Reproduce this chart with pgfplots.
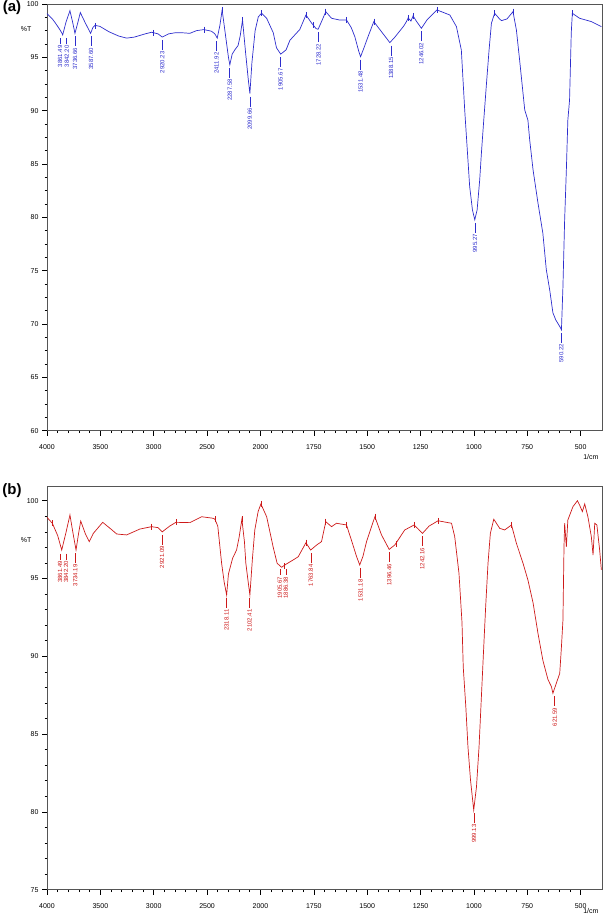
\documentclass[border=0pt]{standalone}
\usepackage{fontspec}
\setmainfont{Liberation Sans}
\usepackage{pgfplots}
\pgfplotsset{compat=1.18}
\definecolor{cA}{RGB}{45,45,205}
\definecolor{cB}{RGB}{205,25,25}
\definecolor{frm}{RGB}{85,85,85}
\newcommand{\pkfont}{\fontsize{6}{7}\selectfont}
\newcommand{\pk}[4]{\draw[#1,line width=0.6pt] (axis cs:#2,#3) ++(0pt,-3pt) -- ++(0pt,-10pt) node[rotate=90, anchor=east, inner sep=1.2pt, font=\pkfont] {#4};}
\newcommand{\pks}[4]{\draw[#1,line width=0.6pt] (axis cs:#2,#3) -- ++(0pt,-6pt) node[rotate=90, anchor=east, inner sep=1.2pt, font=\pkfont] {#4};}
\pgfplotsset{
 irbase/.style={
  scale only axis, width=555pt,
  xmin=4000, xmax=400,
  x coord trafo/.code={\pgfmathparse{(##1>=2000)*((4000-##1)/500)+(##1<2000)*(4+(2000-##1)/250)}},
  xtick={4000,3500,3000,2500,2000,1750,1500,1250,1000,750,500},
  xticklabels={4000,3500,3000,2500,2000,1750,1500,1250,1000,750,500},
  minor x tick num=4,
  tick align=outside, xtick pos=lower, ytick pos=left,
  major tick length=5pt, minor tick length=2.5pt,
  axis line style={draw=frm, line width=0.8pt},
  tick style={black, line width=0.6pt},
  tick label style={font=\fontsize{7}{8}\selectfont},
  xticklabel style={yshift=-5pt},
  /pgf/number format/assume math mode=true,
  clip mode=individual,
 }
}
\begin{document}
\begin{tikzpicture}
\useasboundingbox (0,0) rectangle (604pt,917pt);
\node[font=\fontsize{15}{16}\bfseries\selectfont] at (12pt,909pt) {(a)};
\node[font=\fontsize{15}{16}\bfseries\selectfont] at (12pt,426pt) {(b)};
% ---------------- (a)
\begin{axis}[irbase, at={(47pt,486.3pt)}, anchor=south west, height=426.7pt,
  ymin=60, ymax=100, ytick={60,65,...,100}, minor y tick num=3]
\addplot[cA, line width=0.7pt] coordinates {
(4000,99.1) (3950,98.6) (3920,98.2) (3880,97.6) (3862,97.3) (3853,97.1) (3822,98.3) (3785,99.37) (3760,98.3) (3738,97.25) (3710,98.3) (3688,99.2) (3640,98.2) (3591,97.25) (3570,97.8) (3551,98.0) (3504,97.9) (3420,97.4) (3330,97.0) (3254,96.8) (3180,96.9) (3080,97.2) (3020,97.35) (2960,97.2) (2920,96.9) (2860,97.2) (2801,97.3) (2730,97.3) (2661,97.25) (2600,97.5) (2530,97.6) (2460,97.45) (2427,97.2) (2405,96.8) (2380,98.0) (2359,99.44) (2320,96.5) (2300,95.0) (2287,94.3) (2265,95.3) (2240,95.7) (2210,96.1) (2190,97.0) (2168,98.5) (2140,95.5) (2115,93.0) (2099,91.6) (2080,94.5) (2050,97.5) (2020,98.8) (1995,99.13) (1971,98.66) (1940,97.3) (1925,95.9) (1905,95.3) (1880,95.7) (1862,96.6) (1830,97.3) (1816,97.6) (1787,98.97) (1760,98.2) (1753,98.03) (1740,97.7) (1730,97.63) (1715,98.3) (1694,99.28) (1667,98.66) (1630,98.5) (1597,98.5) (1575,97.8) (1558,96.94) (1540,95.6) (1531,95.06) (1515,95.9) (1496,96.94) (1469,98.35) (1433,97.4) (1410,96.8) (1394,96.38) (1370,96.9) (1330,97.9) (1316,98.35) (1308,98.7) (1295,98.4) (1285,98.88) (1270,98.4) (1246,97.72) (1220,98.5) (1195,99.0) (1173,99.44) (1113,98.97) (1082,97.88) (1059,95.69) (1043,90.0) (1032,86.6) (1020,82.9) (1007,80.7) (996,79.77) (985,80.7) (973,83.5) (965,86.0) (954,89.1) (941,92.6) (929,95.7) (918,98.2) (903,99.13) (880,98.6) (871,98.44) (845,98.6) (817,99.28) (801,97.56) (786,94.75) (762,90.07) (747,89.1) (739,87.3) (723,84.45) (700,81.35) (677,78.5) (661,75.1) (645,73.2) (630,71.05) (617,70.4) (598,69.77) (590,69.46) (583,73.5) (575,79.77) (567,84.45) (560,89.12) (552,91.0) (544,97.3) (539,99.13) (505,98.66) (450,98.35) (403,97.88)
};
\addplot[cA, only marks, mark=|, mark size=3pt, mark options={line width=0.6pt}] coordinates {
(3545,97.95) (3005,97.3) (2530,97.6) (2359,99.44) (2168,98.5) (1995,99.13) (1787,98.97) (1753,98.03) (1694,99.28) (1597,98.5) (1469,98.35) (1308,98.7) (1285,98.88) (1173,99.44) (903,99.13) (817,99.28) (539,99.13)
};
\pks{cA}{3878}{96.8}{3861.49}
\pks{cA}{3815}{96.8}{3842.20}
\pk{cA}{3736.66}{97.25}{3736.66}
\pk{cA}{3587.60}{97.25}{3587.60}
\pk{cA}{2920.23}{96.9}{2920.23}
\pk{cA}{2411.92}{96.8}{2411.92}
\pk{cA}{2287.58}{94.3}{2287.58}
\pk{cA}{2099.66}{91.6}{2099.66}
\pk{cA}{1905.67}{95.3}{1905.67}
\pk{cA}{1728.22}{97.63}{1728.22}
\pk{cA}{1531.48}{95.06}{1531.48}
\pk{cA}{1388.15}{96.38}{1388.15}
\pk{cA}{1246.02}{97.72}{1246.02}
\pk{cA}{995.27}{79.77}{995.27}
\pk{cA}{590.22}{69.46}{590.22}
\node[anchor=east, font=\fontsize{7}{8}\selectfont] at (rel axis cs:0,0.9415) [xshift=-12pt] {\%T};
\node[anchor=east, font=\fontsize{7}{8}\selectfont] at (rel axis cs:1,0) [yshift=-26pt] {1/cm};
\end{axis}
% ---------------- (b)
\begin{axis}[irbase, at={(47pt,27.3pt)}, anchor=south west, height=403.7pt,
  ymin=75, ymax=100.945, ytick={75,80,...,100}, minor y tick num=4]
\addplot[cB, line width=0.7pt] coordinates {
(4000,98.93) (3950,98.55) (3900,97.76) (3862,96.83) (3822,97.96) (3785,99.08) (3755,97.86) (3728,96.83) (3705,97.86) (3684,98.69) (3640,97.86) (3604,97.37) (3566,97.90) (3478,98.61) (3400,98.17) (3347,97.86) (3254,97.80) (3129,98.18) (3020,98.33) (2960,98.27) (2920,98.00) (2850,98.37) (2792,98.61) (2661,98.59) (2551,98.97) (2443,98.87) (2427,98.81) (2400,98.37) (2364,95.98) (2340,94.77) (2317,93.94) (2300,95.29) (2261,96.30) (2224,96.83) (2200,97.65) (2174,98.81) (2150,97.35) (2137,95.98) (2115,94.77) (2099,93.94) (2075,96.3) (2053,98.12) (2022,99.30) (1998,99.79) (1971,98.97) (1941,97.05) (1922,95.98) (1901,95.72) (1881,95.91) (1847,96.19) (1823,96.40) (1787,97.30) (1765,96.83) (1737,97.15) (1714,97.37) (1694,98.65) (1667,98.33) (1644,98.55) (1597,98.44) (1574,97.47) (1550,96.42) (1535,95.87) (1520,96.42) (1503,97.37) (1464,98.97) (1433,97.80) (1397,96.87) (1371,97.15) (1324,98.12) (1280,98.44) (1260,98.17) (1241,97.90) (1210,98.37) (1168,98.71) (1105,98.55) (1090,97.69) (1070,95.33) (1056,92.2) (1050,89.3) (1038,86.76) (1028,84.19) (1016,82.05) (1001,80.12) (988,81.61) (976,84.19) (965,87.40) (954,90.62) (945,93.19) (934,95.98) (923,97.90) (907,98.81) (879,98.22) (856,98.12) (824,98.44) (801,97.26) (770,95.98) (747,94.90) (723,93.44) (700,91.48) (677,89.74) (653,88.50) (637,88.05) (630,87.62) (614,88.27) (598,88.90) (590,90.62) (583,92.31) (578,97.04) (575,98.55) (567,97.04) (560,98.76) (536,99.62) (515,100.00) (505,99.72) (492,99.30) (481,99.79) (466,98.97) (450,97.69) (442,96.51) (434,98.55) (424,98.44) (411,96.83) (403,95.55)
};
\addplot[cB, only marks, mark=|, mark size=3pt, mark options={line width=0.6pt}] coordinates {
(3950,98.55) (3020,98.33) (2792,98.61) (2420,98.8) (2174,98.81) (1998,99.79) (1890,95.8) (1787,97.30) (1694,98.65) (1597,98.44) (1464,98.97) (1366,97.2) (1280,98.44) (1168,98.71) (824,98.44)
};
\pks{cB}{3878}{96.6}{3861.49}
\pks{cB}{3822}{96.6}{3842.20}
\pk{cB}{3734.19}{96.83}{3734.19}
\pk{cB}{2921.09}{98.0}{2921.09}
\pk{cB}{2318.11}{93.94}{2318.11}
\pk{cB}{2102.41}{93.94}{2102.41}
\pks{cB}{1909}{95.6}{1905.67}
\pks{cB}{1881}{95.6}{1886.38}
\pk{cB}{1763.84}{96.83}{1763.84}
\pk{cB}{1531.18}{95.87}{1531.18}
\pk{cB}{1396.46}{96.87}{1396.46}
\pk{cB}{1242.16}{97.9}{1242.16}
\pk{cB}{999.13}{80.12}{999.13}
\pk{cB}{621.59}{87.62}{621.59}
\node[anchor=east, font=\fontsize{7}{8}\selectfont] at (rel axis cs:0,0.866) [xshift=-12pt] {\%T};
\node[anchor=east, font=\fontsize{7}{8}\selectfont] at (rel axis cs:1,0) [yshift=-21pt] {1/cm};
\end{axis}
\end{tikzpicture}
\end{document}
